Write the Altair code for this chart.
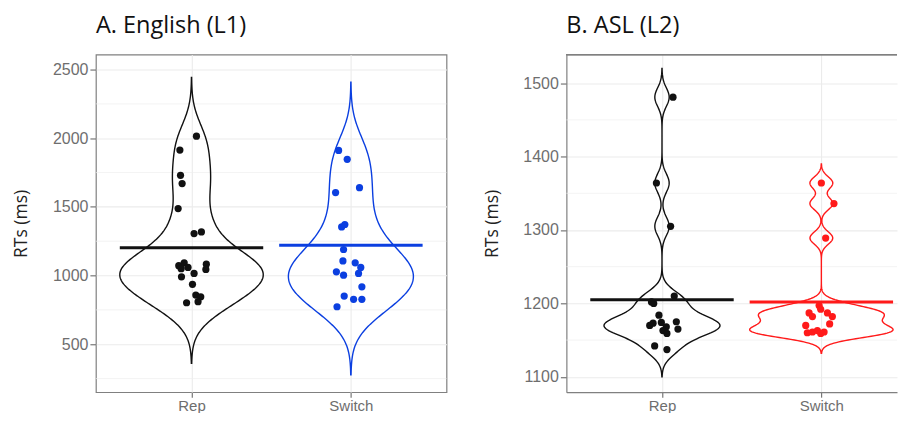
import altair as alt
import pandas as pd
import numpy as np

categories = ["Rep", "Switch"]

# Panel A: English (L1)
en_rep_rt = [2015, 1914, 1730, 1670, 1488, 1306, 1318, 1072, 1093, 1059, 1050,
             991, 1016, 1083, 1045, 936, 858, 846, 810, 802]
en_rep_jit = [0.031, -0.073, -0.069, -0.059, -0.084, 0.016, 0.062, -0.080, -0.046, -0.022, -0.065,
              -0.063, 0.016, 0.093, 0.090, 0.006, 0.027, 0.058, 0.041, -0.031]
en_sw_rt = [1911, 1846, 1604, 1640, 1354, 1372, 1190, 1107, 1093, 1059, 1027,
            1003, 1016, 918, 851, 827, 827, 773]
en_sw_jit = [-0.077, -0.023, -0.096, 0.054, -0.058, -0.038, -0.046, -0.050, 0.027, 0.062, -0.091,
             -0.046, 0.048, 0.069, -0.042, 0.017, 0.069, -0.087]
en_means = [1202, 1221]
en_bw = [145, 166]
en_extent = [[362, 2442], [277, 2408]]

# Panel B: ASL (L2)
asl_rep_rt = [1481, 1364, 1305, 1210, 1202, 1200, 1184, 1170, 1173, 1174, 1168,
              1163, 1175, 1165, 1159, 1142, 1137]
asl_rep_jit = [0.069, -0.035, 0.054, 0.077, -0.066, -0.052, -0.019, -0.077, -0.056, -0.004, 0.027,
               0.006, 0.090, 0.100, 0.031, -0.046, 0.031]
asl_sw_rt = [1364, 1336, 1289, 1197, 1192, 1187, 1182, 1187, 1182, 1172, 1170,
             1160, 1161, 1163, 1159, 1161]
asl_sw_jit = [0.0, 0.079, 0.027, -0.014, -0.004, -0.077, -0.056, 0.038, 0.069, 0.052, -0.098,
              -0.088, -0.056, -0.025, -0.004, 0.017]
asl_means = [1205, 1202]
asl_bw = [12.7, 8.5]
asl_extent = [[1100, 1520], [1132, 1390]]

en_major = [500, 1000, 1500, 2000, 2500]
en_minor = [250, 750, 1250, 1750, 2250]
asl_major = [1100, 1200, 1300, 1400, 1500]
asl_minor = [1150, 1250, 1350, 1450]

BLUE = "#0b3fe0"
RED = "#ff1a1a"
BLACK = "#111111"
FRAME = "#808080"

LABEL_FONT = "Liberation Sans"
TITLE_FONT = "Open Sans"

PX_PER_UNIT = 351 / 2.2


def kde_max(vals, bw, ext, steps=300):
    xs = np.linspace(ext[0], ext[1], steps)
    v = np.array(vals, dtype=float)[:, None]
    d = np.exp(-0.5 * ((xs[None, :] - v) / bw) ** 2).sum(0) / (len(vals) * bw * np.sqrt(2 * np.pi))
    return float(d.max())


def panel(title, groups, means, bws, extents, ydom, major, minor, colors, width, open_right):
    xmax = 0.4 + width / PX_PER_UNIT
    X = alt.X("x:Q", scale=alt.Scale(domain=[0.4, xmax], nice=False, zero=False),
              axis=alt.Axis(values=[1, 2], labelExpr="datum.value == 1 ? 'Rep' : 'Switch'",
                            title=None, grid=True, gridColor="#ebebeb", gridWidth=1.1,
                            domain=open_right, domainColor=FRAME, domainWidth=1.2,
                            tickSize=5, tickColor="#777777", tickWidth=1.2,
                            labelFont=LABEL_FONT, labelFontSize=15, labelColor="#6e6e6e",
                            labelPadding=1))
    Y = alt.Y("y:Q", scale=alt.Scale(domain=ydom, nice=False, zero=False),
              axis=alt.Axis(values=major, format="d", title="RTs (ms)", grid=True,
                            gridColor="#ebebeb", gridWidth=1.1,
                            domain=open_right, domainColor=FRAME, domainWidth=1.2,
                            tickSize=6, tickColor="#777777",
                            tickWidth=1.2, labelFont=LABEL_FONT, labelFontSize=16,
                            labelColor="#6e6e6e", labelPadding=2, titleFont=TITLE_FONT,
                            titleFontSize=17.5, titleFontWeight="normal", titleColor="#222222",
                            titlePadding=21.8))
    kmax = max(kde_max(g[0], bw, ext) for g, bw, ext in zip(groups, bws, extents))
    k = 0.45 / kmax

    layers = []
    grid_df = pd.DataFrame({"y": minor})
    layers.append(alt.Chart(grid_df).mark_rule(color="#eeeeee", strokeWidth=0.7).encode(y=Y))

    for i, (g, bw, ext, col) in enumerate(zip(groups, bws, extents, colors)):
        pos = i + 1
        rts, jits = g
        df = pd.DataFrame({"rt": rts, "jit": jits})
        vio = (alt.Chart(df)
               .transform_density("rt", as_=["y", "density"], bandwidth=bw, extent=ext, steps=300)
               .transform_calculate(x=f"{pos} - datum.density * {k}",
                                    x2=f"{pos} + datum.density * {k}")
               .mark_area(orient="horizontal", fillOpacity=0, stroke=col, strokeWidth=1.4)
               .encode(y=Y, x=X, x2="x2:Q"))
        pts = (alt.Chart(df)
               .transform_calculate(x=f"{pos} + datum.jit", y="datum.rt")
               .mark_circle(size=52, opacity=1, color=col)
               .encode(x=X, y=Y))
        mdf = pd.DataFrame({"y": [means[i]]})
        mean = (alt.Chart(mdf)
                .transform_calculate(x=f"{pos} - 0.45", x2=f"{pos} + 0.45")
                .mark_rule(color=col, strokeWidth=3)
                .encode(x=X, x2="x2:Q", y=Y))
        layers += [vio, pts, mean]

    props = dict(width=width, height=338,
                 title=alt.TitleParams(title, anchor="start", frame="group", font=TITLE_FONT,
                                       fontSize=23.5, fontWeight="normal", color="#111111",
                                       offset=16.7))
    if open_right:
        top = (alt.Chart(grid_df).mark_rule(color=FRAME, strokeWidth=1.2)
               .encode(x=alt.value(0), x2=alt.value(width), y=alt.value(0)))
        layers.append(top)
        props["view"] = alt.ViewBackground(strokeOpacity=0)
    else:
        props["view"] = alt.ViewBackground(stroke=FRAME, strokeWidth=1.2)
    return alt.layer(*layers).properties(**props)


left = panel("A. English (L1)", [(en_rep_rt, en_rep_jit), (en_sw_rt, en_sw_jit)],
             en_means, en_bw, en_extent, [151, 2609], en_major, en_minor, [BLACK, BLUE],
             351, False)
right = panel("B. ASL (L2)", [(asl_rep_rt, asl_rep_jit), (asl_sw_rt, asl_sw_jit)],
              asl_means, asl_bw, asl_extent, [1079, 1539], asl_major, asl_minor, [BLACK, RED],
              331, True)

chart = (alt.hconcat(left, right, spacing=35)
         .properties(padding={"left": 4, "top": 5.4, "right": 0, "bottom": -1}, background="white")
         .configure_view(stroke=FRAME, strokeWidth=1.2))

chart.save("out.html", embed_options={"renderer": "svg", "actions": False})
